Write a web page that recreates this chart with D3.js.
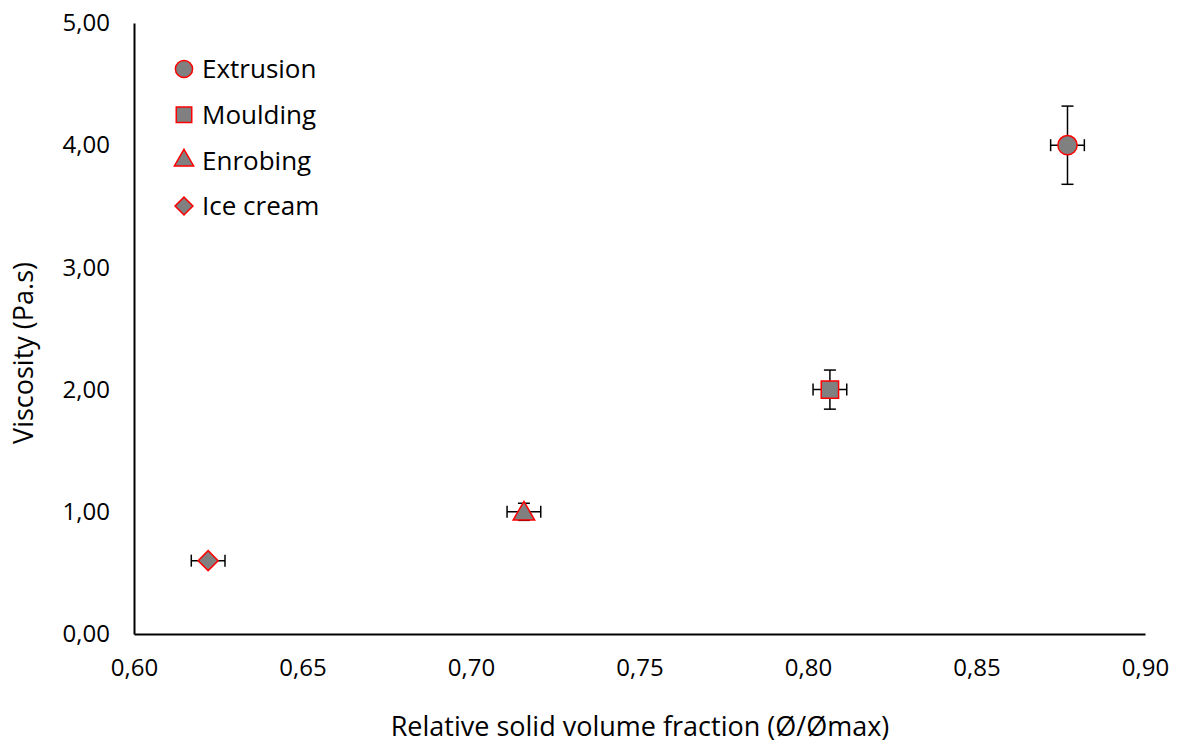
<!DOCTYPE html>
<html>
<head>
<meta charset="utf-8">
<script src="https://cdn.jsdelivr.net/npm/d3@7"></script>
<style>
  body { margin: 0; background: #fff; }
  text { font-family: "Open Sans", "Noto Sans", sans-serif; fill: #000; }
</style>
</head>
<body>
<script>
// data
var names = ["Extrusion", "Moulding", "Enrobing", "Ice cream"];
var symbols = ["circle", "square", "triangle", "diamond"];
var fraction = [0.877, 0.8065, 0.7157, 0.622];
var viscosity = [4.00, 2.00, 1.00, 0.60];
var errX = [0.005, 0.005, 0.005, 0.005];
var errY = [0.32, 0.16, 0.07, 0.0];
var xTicks = [0.60, 0.65, 0.70, 0.75, 0.80, 0.85, 0.90];
var yTicks = [0, 1, 2, 3, 4, 5];

var W = 1178, H = 747;
var svg = d3.select("body").append("svg").attr("width", W).attr("height", H);

var x = d3.scaleLinear().domain([0.60, 0.90]).range([134, 1145]);
var y = d3.scaleLinear().domain([0, 5]).range([634, 23]);
var fmt = function(v) { return d3.format(".2f")(v).replace(".", ","); };

// axes
var xAxis = svg.append("g").attr("transform", "translate(0,634)")
  .call(d3.axisBottom(x).tickValues(xTicks).tickSize(0).tickPadding(25).tickFormat(fmt));
var yAxis = svg.append("g").attr("transform", "translate(134,0)")
  .call(d3.axisLeft(y).tickValues(yTicks).tickSize(0).tickPadding(24).tickFormat(fmt));
[xAxis, yAxis].forEach(function(a) {
  a.select(".domain").attr("stroke", "#000").attr("stroke-width", 2);
  a.selectAll("text").style("font-size", "24px").attr("fill", "#000");
});

svg.append("text").attr("x", 640).attr("y", 736).attr("text-anchor", "middle")
  .style("font-size", "27px").text("Relative solid volume fraction (Ø/Ømax)");
svg.append("text").attr("transform", "translate(33,353) rotate(-90)").attr("text-anchor", "middle")
  .style("font-size", "27px").text("Viscosity (Pa.s)");

var data = names.map(function(n, i) {
  return {name: n, sym: symbols[i], fx: fraction[i], vy: viscosity[i], ex: errX[i], ey: errY[i]};
});

var symType = {circle: d3.symbolCircle, square: d3.symbolSquare, triangle: d3.symbolTriangle, diamond: d3.symbolSquare};
var symSize = {circle: 290, square: 300, triangle: 200, diamond: 200};
var symRot = {circle: 0, square: 0, triangle: 0, diamond: 45};
function shape(s, k) { return d3.symbol().type(symType[s]).size(symSize[s] * k)(); }

// error bars
var eb = svg.append("g").attr("stroke", "#000").attr("stroke-width", 1.5);
data.forEach(function(d) {
  var cx = x(d.fx), cy = y(d.vy);
  var x0 = x(d.fx - d.ex), x1 = x(d.fx + d.ex);
  eb.append("line").attr("x1", x0).attr("x2", x1).attr("y1", cy).attr("y2", cy);
  eb.append("line").attr("x1", x0).attr("x2", x0).attr("y1", cy - 6).attr("y2", cy + 6);
  eb.append("line").attr("x1", x1).attr("x2", x1).attr("y1", cy - 6).attr("y2", cy + 6);
  if (d.ey > 0) {
    var y0 = y(d.vy - d.ey), y1 = y(d.vy + d.ey);
    eb.append("line").attr("x1", cx).attr("x2", cx).attr("y1", y0).attr("y2", y1);
    eb.append("line").attr("x1", cx - 6).attr("x2", cx + 6).attr("y1", y0).attr("y2", y0);
    eb.append("line").attr("x1", cx - 6).attr("x2", cx + 6).attr("y1", y1).attr("y2", y1);
  }
});

// points
svg.append("g").selectAll("path").data(data).join("path")
  .attr("transform", function(d) {
    var dy = d.sym == "triangle" ? 2 : 0;
    return "translate(" + x(d.fx) + "," + (y(d.vy) + dy) + ") rotate(" + symRot[d.sym] + ")";
  })
  .attr("d", function(d) { return shape(d.sym, 1); })
  .attr("fill", "#808080").attr("stroke", "#ff0000").attr("stroke-width", 1.5);

// legend
var leg = svg.append("g").selectAll("g").data(data).join("g")
  .attr("transform", function(d, i) { return "translate(184," + (69 + i * 45.7) + ")"; });
leg.append("path")
  .attr("transform", function(d) { return "rotate(" + symRot[d.sym] + ")"; })
  .attr("d", function(d) { return shape(d.sym, 0.8); })
  .attr("fill", "#808080").attr("stroke", "#ff0000").attr("stroke-width", 1.5);
leg.append("text").attr("x", 18).attr("dy", "0.35em").style("font-size", "26px")
  .text(function(d) { return d.name; });
</script>
</body>
</html>
